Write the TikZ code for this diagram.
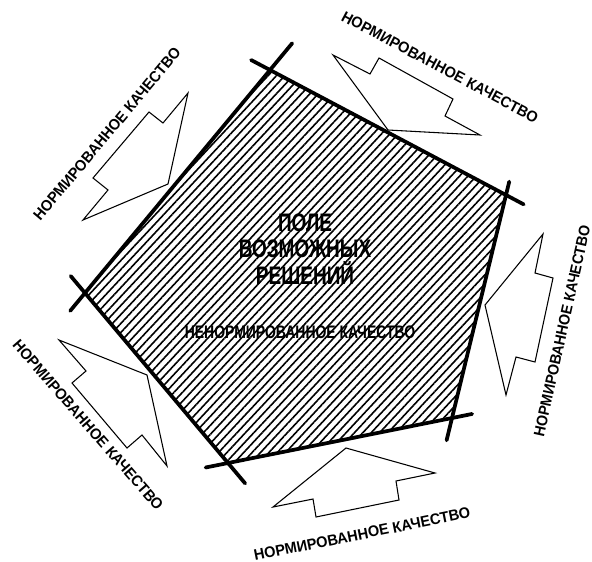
\documentclass[tikz,border=0pt]{standalone}
\usepackage{fontspec}
\setmainfont{Liberation Sans}
\usetikzlibrary{calc,patterns.meta}

\newcommand{\condtext}[2][.95]{\scalebox{#1}[1]{#2}}
\tikzset{
  sideline/.style={line width=2.8pt,line cap=round},
  qarrow/.style={draw,line width=.8pt,line join=miter},
  qlabel/.style={font=\bfseries\fontsize{11.5}{13}\selectfont,inner sep=0pt},
}

\begin{document}
\begin{tikzpicture}[x=.75pt,y=-.75pt]
  \useasboundingbox (0,0) rectangle (592,561);
  \coordinate (A) at (270,70);
  \coordinate (B) at (506,195);
  \coordinate (C) at (452,418);
  \coordinate (D) at (228,463);
  \coordinate (E) at (85,293);

  \path[pattern={Lines[angle=47,distance=4.6pt,line width=1.2pt]}] (A) -- (B) -- (C) -- (D) -- (E) -- cycle;

  % arrows of the imposed quality
  \path[qarrow] (188,93) -- (163,123) -- (149,112) -- (93,178) -- (108,190) -- (83,220) -- (168,184) -- cycle;
  \path[qarrow] (333,55) -- (370,74) -- (379,58) -- (453,99) -- (445,116) -- (480,135) -- (388,130) -- cycle;
  \path[qarrow] (543,234) -- (535,273) -- (553,278) -- (535,362) -- (516,357) -- (506,395) -- (485,305) -- cycle;
  \path[qarrow] (59,340) -- (86,371) -- (72,383) -- (127,448) -- (142,435) -- (167,466) -- (147,375) -- cycle;
  \path[qarrow] (346,448) -- (435,473) -- (396,481) -- (399,500) -- (316,517) -- (313,499) -- (273,507) -- cycle;

  % sides, drawn past the corners
  \path[draw,sideline] ($(A)!-.08!(B)$) -- ($(B)!-.075!(A)$);
  \path[draw,sideline] ($(B)!-.06!(C)$) -- ($(C)!-.1!(B)$);
  \path[draw,sideline] ($(C)!-.09!(D)$) -- ($(D)!-.1!(C)$);
  \path[draw,sideline] ($(D)!-.12!(E)$) -- ($(E)!-.1!(D)$);
  \path[draw,sideline] ($(E)!-.08!(A)$) -- ($(A)!-.12!(E)$);

  \node[font=\bfseries\fontsize{19}{20}\selectfont,align=center,inner sep=0pt] (field) at (305,249)
    {\condtext[.75]{ПОЛЕ}\\\condtext[.75]{ВОЗМОЖНЫХ}\\\condtext[.75]{РЕШЕНИЙ}};
  \node[font=\bfseries\fontsize{13.6}{15}\selectfont,inner sep=0pt] (free) at (300,332)
    {\condtext[.77]{НЕНОРМИРОВАННОЕ КАЧЕСТВО}};

  \node[qlabel,rotate=50] (qa) at (107,134) {\condtext{НОРМИРОВАННОЕ КАЧЕСТВО}};
  \node[qlabel,rotate=-28] (qb) at (440,67) {\condtext{НОРМИРОВАННОЕ КАЧЕСТВО}};
  \node[qlabel,rotate=77.5] (qc) at (562,331) {\condtext[.93]{НОРМИРОВАННОЕ КАЧЕСТВО}};
  \node[qlabel,rotate=-49] (qd) at (88,425) {\condtext{НОРМИРОВАННОЕ КАЧЕСТВО}};
  \node[qlabel,rotate=11.4] (qe) at (362,534) {\condtext{НОРМИРОВАННОЕ КАЧЕСТВО}};
\end{tikzpicture}
\end{document}
